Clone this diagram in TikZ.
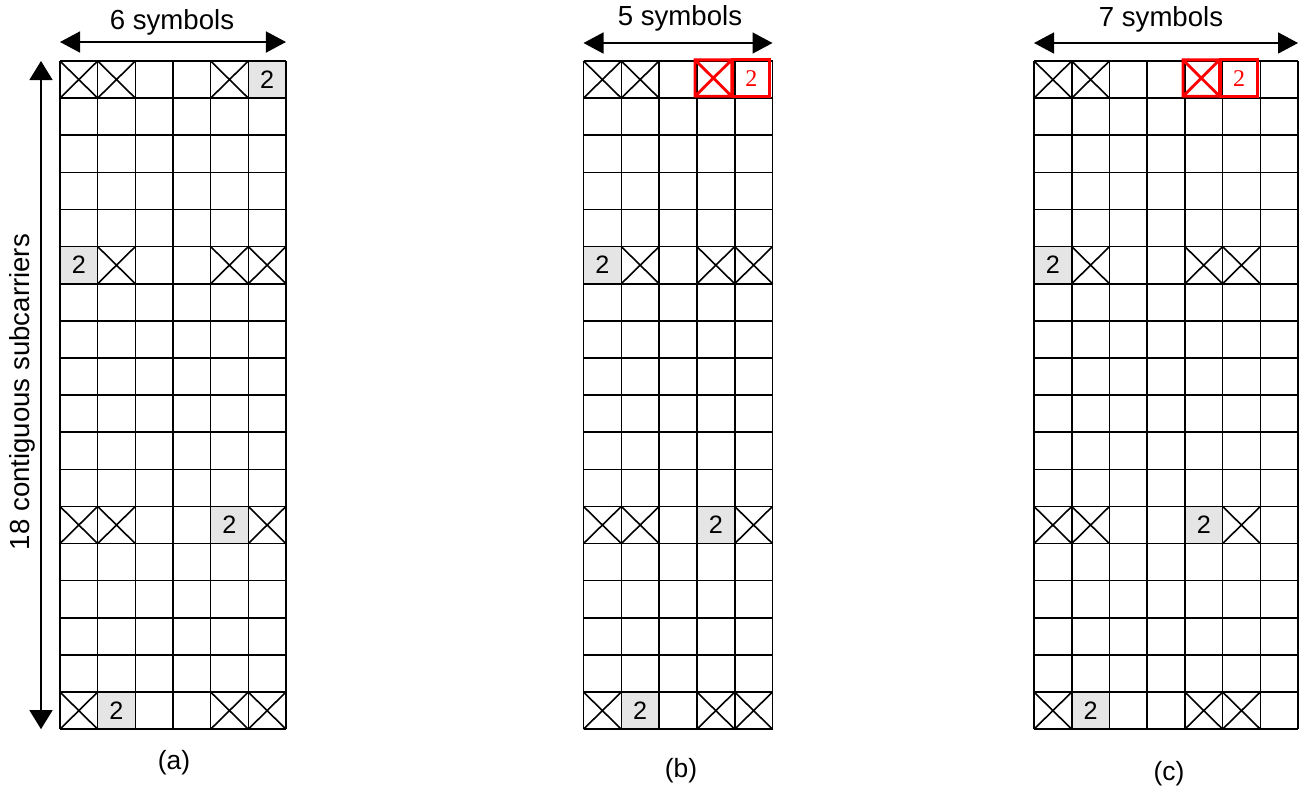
\documentclass[tikz,border=0pt]{standalone}
\usepackage{fontspec}
\setmainfont{Liberation Sans}
\newfontfamily\serifdigit{Liberation Serif}
\usetikzlibrary{arrows.meta}

% one resource block: #1 columns, 18 rows
\newcommand{\rbgrid}[1]{%
  \foreach \c in {0,...,#1} \draw[gridline] (\c,0) -- (\c,18);
  \foreach \r in {0,...,18} \draw[gridline] (0,\r) -- (#1,\r);}
\newcommand{\xcell}[2]{\draw[gridline] (#1,#2) -- (#1+1,#2+1) (#1+1,#2) -- (#1,#2+1);}
\newcommand{\pfill}[2]{\fill[pilot] (#1,#2) rectangle (#1+1,#2+1);}
\newcommand{\pcell}[3]{\node[ptext] (#1) at (#2+0.5,#3+0.5) {2};}
\newcommand{\redx}[2]{\draw[redbox] (#1-0.05,#2-0.03) rectangle (#1+0.92,#2+0.95)
  (#1-0.05,#2-0.03) -- (#1+0.92,#2+0.95) (#1+0.92,#2-0.03) -- (#1-0.05,#2+0.95);}
\newcommand{\redp}[3]{\draw[redbox] (#2-0.05,#3-0.03) rectangle (#2+0.92,#3+0.95);
  \node[rtext] (#1) at (#2+0.44,#3+0.46) {2};}

\begin{document}
\begin{tikzpicture}[x=0.5pt, y=-0.5pt,
  gridline/.style={line width=0.8pt, black},
  pilot/.style={fill=black!10},
  ptext/.style={inner sep=0pt, font=\fontsize{12.6}{14}\selectfont},
  rtext/.style={inner sep=0pt, text=red, font=\serifdigit\fontsize{12}{13}\selectfont},
  redbox/.style={draw=red, line width=1.4pt},
  lbl/.style={inner sep=0pt, font=\fontsize{13.8}{15}\selectfont},
  sub/.style={inner sep=0pt, font=\fontsize{13.2}{14}\selectfont},
  dimh/.style={line width=0.8pt, {Triangle[length=10pt,width=10.5pt]}-{Triangle[length=10pt,width=10.5pt]}},
  dimv/.style={line width=0.8pt, {Triangle[length=9.5pt,width=11.5pt]}-{Triangle[length=9.5pt,width=11.5pt]}},
]
\useasboundingbox (0,0) rectangle (1300,789);

% (a) 6 symbols
\begin{scope}[xshift=30pt, yshift=-30.5pt, x=18.83pt, y=-18.56pt]
  \foreach \c/\r in {5/0,0/5,4/12,1/17} \pfill{\c}{\r};
  \rbgrid{6}
  \foreach \c/\r in {0/0,1/0,4/0,1/5,4/5,5/5,0/12,1/12,5/12,0/17,4/17,5/17} \xcell{\c}{\r};
  \foreach \n/\c/\r in {a-p1/5/0,a-p2/0/5,a-p3/4/12,a-p4/1/17} \pcell{\n}{\c}{\r};
  \coordinate (a-tl) at (0,0);
  \coordinate (a-tr) at (6,0);
  \coordinate (a-bl) at (0,18);
  \coordinate (a-top) at (3,0);
  \coordinate (a-bot) at (3,18);
  \coordinate (a-mid) at (0,9);
\end{scope}

% (b) 5 symbols
\begin{scope}[xshift=291.75pt, yshift=-30.5pt, x=18.9pt, y=-18.56pt]
  \foreach \c/\r in {0/5,3/12,1/17} \pfill{\c}{\r};
  \rbgrid{5}
  \foreach \c/\r in {0/0,1/0,1/5,3/5,4/5,0/12,1/12,4/12,0/17,3/17,4/17} \xcell{\c}{\r};
  \foreach \n/\c/\r in {b-p2/0/5,b-p3/3/12,b-p4/1/17} \pcell{\n}{\c}{\r};
  \redx{3}{0}
  \redp{b-p1}{4}{0}
  \coordinate (b-tl) at (0,0);
  \coordinate (b-tr) at (5,0);
  \coordinate (b-top) at (2.5,0);
  \coordinate (b-bot) at (2.5,18);
\end{scope}

% (c) 7 symbols
\begin{scope}[xshift=517pt, yshift=-30.5pt, x=18.86pt, y=-18.56pt]
  \foreach \c/\r in {0/5,4/12,1/17} \pfill{\c}{\r};
  \rbgrid{7}
  \foreach \c/\r in {0/0,1/0,1/5,4/5,5/5,0/12,1/12,5/12,0/17,4/17,5/17} \xcell{\c}{\r};
  \foreach \n/\c/\r in {c-p2/0/5,c-p3/4/12,c-p4/1/17} \pcell{\n}{\c}{\r};
  \redx{4}{0}
  \redp{c-p1}{5}{0}
  \coordinate (c-tl) at (0,0);
  \coordinate (c-tr) at (7,0);
  \coordinate (c-top) at (3.5,0);
  \coordinate (c-bot) at (3.5,18);
\end{scope}

% dimensions
\draw[dimh] ([yshift=9.5pt]a-tl) -- ([yshift=9.5pt]a-tr);
\draw[dimh] ([yshift=9pt]b-tl) -- ([yshift=9pt]b-tr);
\draw[dimh] ([yshift=9pt]c-tl) -- ([yshift=9pt]c-tr);
\draw[dimv] ([xshift=-9.5pt]a-tl) -- ([xshift=-9.5pt]a-bl);

\node[lbl] (a-sym) at ([xshift=-0.5pt, yshift=19.5pt]a-top) {6 symbols};
\node[lbl] (b-sym) at ([xshift=1pt, yshift=21.5pt]b-top) {5 symbols};
\node[lbl] (c-sym) at ([xshift=-2.5pt, yshift=21pt]c-top) {7 symbols};
\node[lbl, rotate=90] (sc) at ([xshift=-19pt, yshift=1.5pt]a-mid) {18 contiguous subcarriers};

\node[sub] (a-cap) at ([xshift=0.5pt, yshift=-16.5pt]a-bot) {(a)};
\node[sub] (b-cap) at ([xshift=1.5pt, yshift=-20.5pt]b-bot) {(b)};
\node[sub] (c-cap) at ([xshift=1.5pt, yshift=-22pt]c-bot) {(c)};
\end{tikzpicture}
\end{document}
